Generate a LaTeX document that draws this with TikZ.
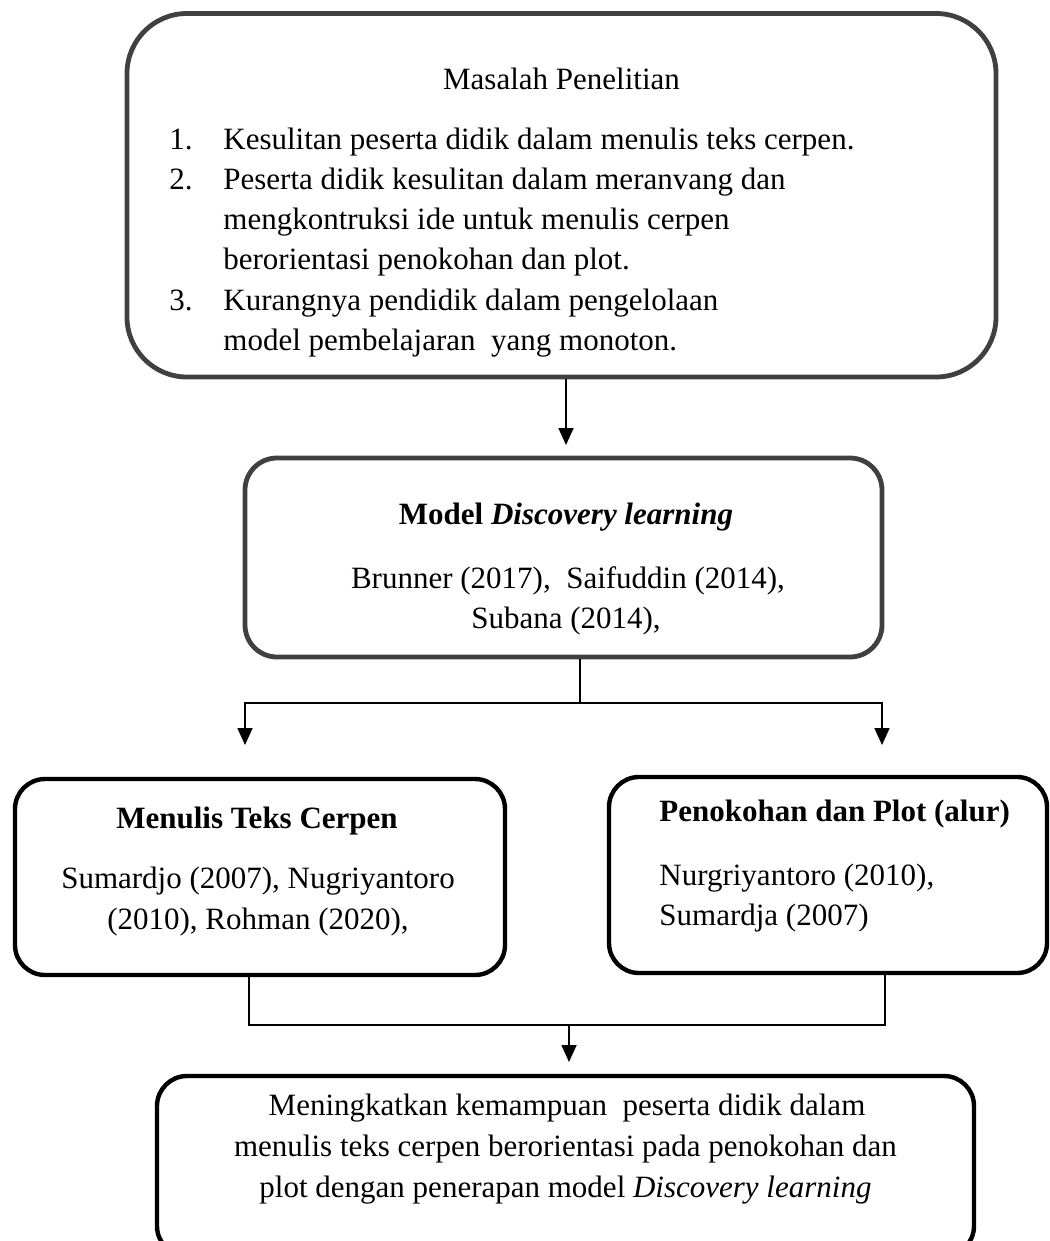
\documentclass[tikz,border=0pt]{standalone}
\usepackage{fontspec}
\setmainfont{Liberation Serif}
\usetikzlibrary{arrows.meta}
\newcommand\mainfs{\fontsize{15.5pt}{20pt}\selectfont}
\begin{document}
\begin{tikzpicture}[x=0.5pt,y=-0.5pt,
  gbox/.style={draw=black!75, rectangle, rounded corners=#1, line width=2.4pt, inner sep=0pt},
  kbox/.style={draw=black, rectangle, rounded corners=#1, line width=2.2pt, inner sep=0pt},
  txt/.style={inner sep=0pt, anchor=base, font=\mainfs},
  ltxt/.style={inner sep=0pt, anchor=base west, font=\mainfs},
  ln/.style={draw=black, line width=0.85pt},
  arr/.style={ln, -{Triangle[length=8.5pt,width=7.5pt]}}]
\useasboundingbox (0,0) rectangle (1049,1241);
\clip (0,0) rectangle (1049,1241);

% boxes
\node[gbox=30pt, minimum width=434.5pt, minimum height=181.75pt] (b1) at (561.5,195.25) {};
\node[gbox=16pt, minimum width=318.5pt, minimum height=99.5pt] (b2) at (563.5,557.5) {};
\node[kbox=15pt, minimum width=245pt, minimum height=98pt] (b3) at (260,877) {};
\node[kbox=15pt, minimum width=219pt, minimum height=98pt] (b4) at (828,875) {};
\node[kbox=15pt, minimum width=408.5pt, minimum height=90pt] (b5) at (565.5,1166) {};

% box 1 text
\node[txt] (h1) at (561.5,90) {Masalah Penelitian};
\node[ltxt] (n1) at (169,150) {1.};
\node[ltxt] (l1) at (223,150) {Kesulitan peserta didik dalam menulis teks cerpen.};
\node[ltxt] (n2) at (169,190) {2.};
\node[ltxt] (l2) at (223,190) {Peserta didik kesulitan dalam meranvang dan};
\node[ltxt] (l3) at (223,230) {mengkontruksi ide untuk menulis cerpen};
\node[ltxt] (l4) at (223,270) {berorientasi penokohan dan plot.};
\node[ltxt] (n3) at (169,310) {3.};
\node[ltxt] (l5) at (223,310) {Kurangnya pendidik dalam pengelolaan};
\node[ltxt] (l6) at (223,350) {model pembelajaran\ \ yang monoton.};

% box 2 text
\node[txt] (m1) at (566,524) {\textbf{Model \textit{Discovery learning}}};
\node[txt] (m2) at (568,588) {Brunner (2017),\ \ Saifuddin (2014),};
\node[txt] (m3) at (566,628) {Subana (2014),};

% box 3 text
\node[txt] (c1) at (257,828) {\textbf{Menulis Teks Cerpen}};
\node[txt] (c2) at (258,888) {Sumardjo (2007), Nugriyantoro};
\node[txt] (c3) at (258,929) {(2010), Rohman (2020),};

% box 4 text
\node[ltxt] (p1) at (659,821) {\textbf{Penokohan dan Plot (alur)}};
\node[ltxt] (p2) at (659,885) {Nurgriyantoro (2010),};
\node[ltxt] (p3) at (659,925) {Sumardja (2007)};

% box 5 text
\node[txt] (r1) at (567,1115) {Meningkatkan kemampuan\ \ peserta didik dalam};
\node[txt] (r2) at (565.5,1156) {menulis teks cerpen berorientasi pada penokohan dan};
\node[txt] (r3) at (565.5,1197) {plot dengan penerapan model \textit{Discovery learning}};

% connectors
\coordinate (a1) at (566,445);
\draw[arr] (b1.south -| a1) -- (a1);

\coordinate (j2) at (580,703);
\coordinate (aL) at (245,745);
\coordinate (aR) at (882,745);
\draw[ln] (b2.south -| j2) -- (j2);
\draw[arr] (j2) -| (aL);
\draw[arr] (j2) -| (aR);

\coordinate (cL) at (249,1025);
\coordinate (cR) at (885,1025);
\coordinate (j3) at (569,1025);
\coordinate (a3) at (569,1062);
\draw[ln] (b3.south -| cL) -- (cL) -- (cR) -- (b4.south -| cR);
\draw[arr] (j3) -- (a3);
\end{tikzpicture}
\end{document}
